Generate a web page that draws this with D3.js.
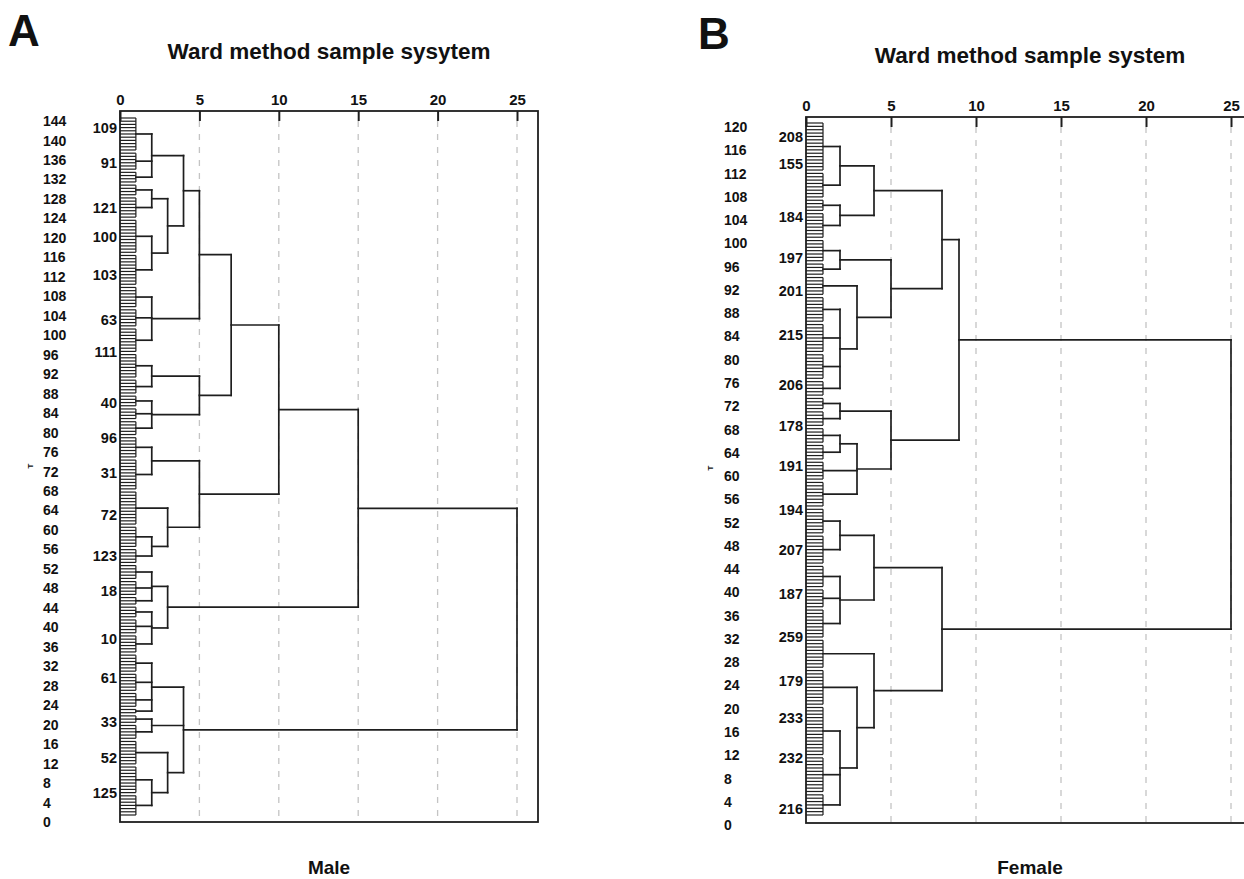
<!DOCTYPE html>
<html><head><meta charset="utf-8">
<script src="https://cdn.jsdelivr.net/npm/d3@7"></script>
<style>
body{margin:0;background:#fff}
text{font-family:"Liberation Sans",Arial,sans-serif;font-weight:bold;fill:#111}
</style>
</head><body>
<svg id="c" width="1244" height="879"></svg>
<script>
// ---------------- DATA ----------------
const distTicks = [0, 5, 10, 15, 20, 25];

// left-hand row labels
const maleRowLabels = [0,4,8,12,16,20,24,28,32,36,40,44,48,52,56,60,64,68,72,76,80,84,88,92,96,100,104,108,112,116,120,124,128,132,136,140,144];
const femaleRowLabels = [0,4,8,12,16,20,24,28,32,36,40,44,48,52,56,60,64,68,72,76,80,84,88,92,96,100,104,108,112,116,120];

// leaves per terminal comb group (top to bottom)
const maleGroupSizes = [11,6,4,4,7,11,10,7,6,8,8,5,4,4,5,7,10,11,7,5,5,5,3,4,5,6,6,6,5,2,3,5,8,9,7];
const femaleGroupSizes = [15,8,4,8,7,4,6,8,9,8,5,4,5,5,5,6,8,8,9,7,6,9,9,11,15,11,7];

// merges: [id, rescaled distance, children]
const maleMerges = [
  ["a", 2, ["g0","g1","g2"]],
  ["b", 2, ["g3","g4"]],
  ["c", 2, ["g5","g6"]],
  ["d", 3, ["b","c"]],
  ["e", 4, ["a","d"]],
  ["f", 2, ["g7","g8","g9"]],
  ["g", 5, ["e","f"]],
  ["h", 2, ["g10","g11"]],
  ["i", 2, ["g12","g13","g14"]],
  ["j", 5, ["h","i"]],
  ["k", 7, ["g","j"]],
  ["l", 2, ["g15","g16"]],
  ["m", 2, ["g18","g19"]],
  ["n", 3, ["g17","m"]],
  ["o", 5, ["l","n"]],
  ["p", 10, ["k","o"]],
  ["q", 2, ["g20","g21","g22"]],
  ["r", 2, ["g23","g24","g25"]],
  ["s", 3, ["q","r"]],
  ["t", 15, ["p","s"]],
  ["u", 2, ["g26","g27","g28","g29"]],
  ["v", 2, ["g30","g31"]],
  ["w", 2, ["g33","g34"]],
  ["x", 3, ["g32","w"]],
  ["y", 4, ["u","v","x"]],
  ["root", 25, ["t","y"]]
];
const femaleMerges = [
  ["a", 2, ["g0","g1"]],
  ["b", 2, ["g2","g3"]],
  ["c", 4, ["a","b"]],
  ["d", 2, ["g4","g5"]],
  ["e", 2, ["g7","g8","g9","g10"]],
  ["f", 3, ["g6","e"]],
  ["g", 5, ["d","f"]],
  ["h", 8, ["c","g"]],
  ["i", 2, ["g11","g12"]],
  ["j", 2, ["g13","g14"]],
  ["k", 3, ["j","g15","g16"]],
  ["l", 5, ["i","k"]],
  ["m", 9, ["h","l"]],
  ["n", 2, ["g17","g18"]],
  ["o", 2, ["g19","g20","g21"]],
  ["p", 4, ["n","o"]],
  ["q", 2, ["g24","g25","g26"]],
  ["r", 3, ["g23","q"]],
  ["s", 4, ["g22","r"]],
  ["t", 8, ["p","s"]],
  ["root", 25, ["m","t"]]
];

// case labels shown beside the leaves: [label, leaf index]
const maleCaseLabels = [["109",3],["91",14],["121",28],["100",37],["103",49],["63",63],["111",73],["40",89],["96",100],["31",111],["72",124],["123",137],["18",148],["10",163],["61",175],["33",189],["52",200],["125",211]];
const femaleCaseLabels = [["208",4],["155",12],["184",28],["197",40],["201",50],["215",63],["206",78],["178",90],["191",102],["194",115],["207",127],["187",140],["259",153],["179",166],["233",177],["232",189],["216",204]];

// ---------------- DRAW ----------------
const svg = d3.select("#c");
const INK = "#1e1e1e";

function drawPanel(cfg) {
  const g = svg.append("g");
  const x = d3.scaleLinear().domain([0, 25]).range([cfg.x0, cfg.x25]);
  const N = d3.sum(cfg.sizes);
  const y = d3.scaleLinear().domain([0, N - 1]).range([cfg.leafTop, cfg.leafBottom]);
  const rowY = d3.scaleLinear().domain([0, d3.max(cfg.rowLabels)]).range([cfg.rowBottom, cfg.rowTop]);

  // dashed grid
  g.selectAll("line.grid").data(distTicks.filter(t => t > 0)).join("line")
    .attr("class", "grid")
    .attr("x1", d => x(d)).attr("x2", d => x(d))
    .attr("y1", cfg.frameTop + 10).attr("y2", cfg.frameBottom)
    .attr("stroke", "#c4c4c4").attr("stroke-width", 1.3).attr("stroke-dasharray", "6,7");

  // frame
  g.append("rect")
    .attr("x", x(0)).attr("y", cfg.frameTop)
    .attr("width", cfg.frameRight - x(0)).attr("height", cfg.frameBottom - cfg.frameTop)
    .attr("fill", "none").attr("stroke", INK).attr("stroke-width", 1.8);

  // top axis
  const axis = d3.axisTop(x).tickValues(distTicks).tickSizeInner(-10).tickSizeOuter(0).tickPadding(6);
  g.append("g").attr("transform", `translate(0,${cfg.frameTop})`).call(axis)
    .call(s => {
      s.select(".domain").remove();
      s.selectAll(".tick line").attr("stroke", INK).attr("stroke-width", 2);
      s.selectAll(".tick text").attr("font-size", 15).attr("font-weight", "bold")
        .attr("font-family", '"Liberation Sans",Arial,sans-serif').attr("fill", "#111");
    });

  // nodes
  const nodes = {};
  let idx = 0;
  const combLines = [];
  cfg.sizes.forEach((n, i) => {
    const first = idx, last = idx + n - 1;
    for (let k = first; k <= last; k++) combLines.push([x(0), y(k), x(1), y(k)]);
    combLines.push([x(1), y(first), x(1), y(last)]);
    nodes["g" + i] = { y: (y(first) + y(last)) / 2, h: 1 };
    idx += n;
  });
  const treeLines = [];
  cfg.merges.forEach(([id, h, kids]) => {
    const ch = kids.map(k => nodes[k]);
    const ys = ch.map(c => c.y);
    const y0 = d3.min(ys), y1 = d3.max(ys);
    treeLines.push([x(h), y0, x(h), y1]);
    ch.forEach(c => treeLines.push([x(c.h), c.y, x(h), c.y]));
    nodes[id] = { y: (y0 + y1) / 2, h: h };
  });

  g.selectAll("line.comb").data(combLines).join("line").attr("class", "comb")
    .attr("x1", d => d[0]).attr("y1", d => d[1]).attr("x2", d => d[2]).attr("y2", d => d[3])
    .attr("stroke", INK).attr("stroke-width", 1.2);
  g.selectAll("line.tree").data(treeLines).join("line").attr("class", "tree")
    .attr("x1", d => d[0]).attr("y1", d => d[1]).attr("x2", d => d[2]).attr("y2", d => d[3])
    .attr("stroke", INK).attr("stroke-width", 1.7).attr("stroke-linecap", "square");

  // case labels
  g.selectAll("text.case").data(cfg.caseLabels).join("text").attr("class", "case")
    .attr("x", x(0) - 3).attr("y", d => y(d[1])).attr("dy", "0.36em")
    .attr("text-anchor", "end").attr("font-size", 14.5).text(d => d[0]);

  // row labels
  g.selectAll("text.row").data(cfg.rowLabels).join("text").attr("class", "row")
    .attr("x", cfg.rowX).attr("y", d => rowY(d)).attr("dy", "0.36em")
    .attr("font-size", 14).text(d => d);

  // tiny rotated mark
  g.append("text").attr("transform", `translate(${cfg.markX},${cfg.markY}) rotate(-90)`)
    .attr("font-size", 8).attr("text-anchor", "middle").attr("dy", "0.35em").text("T");

  // titles
  g.append("text").attr("x", cfg.titleX).attr("y", cfg.titleY).attr("text-anchor", "middle")
    .attr("font-size", 22.5).text(cfg.title);
  g.append("text").attr("x", cfg.titleX).attr("y", cfg.subY).attr("text-anchor", "middle")
    .attr("font-size", 19).text(cfg.sub);
  g.append("text").attr("x", cfg.letterX).attr("y", cfg.letterY)
    .attr("font-size", 44).text(cfg.letter);
}

drawPanel({
  sizes: maleGroupSizes, merges: maleMerges, caseLabels: maleCaseLabels, rowLabels: maleRowLabels,
  x0: 120, x25: 517, frameRight: 538, frameTop: 111, frameBottom: 822,
  leafTop: 118, leafBottom: 815, rowTop: 121, rowBottom: 822, rowX: 43,
  markX: 30, markY: 466,
  title: "Ward method sample sysytem", titleX: 329, titleY: 59, sub: "Male", subY: 874,
  letter: "A", letterX: 8, letterY: 46
});
drawPanel({
  sizes: femaleGroupSizes, merges: femaleMerges, caseLabels: femaleCaseLabels, rowLabels: femaleRowLabels,
  x0: 806, x25: 1231, frameRight: 1253, frameTop: 117, frameBottom: 823,
  leafTop: 123, leafBottom: 815, rowTop: 127, rowBottom: 825, rowX: 724,
  markX: 710, markY: 468,
  title: "Ward method sample system", titleX: 1030, titleY: 63, sub: "Female", subY: 874,
  letter: "B", letterX: 698, letterY: 49
});
</script>
</body></html>
